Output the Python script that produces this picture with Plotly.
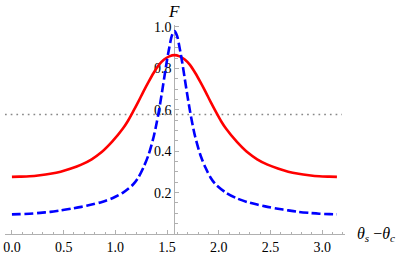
import plotly.graph_objects as go

# Values (left half then right half)
red_x = [0.000, 0.071, 0.171, 0.271, 0.371, 0.471, 0.571, 0.671, 0.771, 0.871, 0.971,
         1.071, 1.121, 1.171, 1.221, 1.271, 1.321, 1.371, 1.421, 1.471, 1.521, 1.571,
         1.621, 1.671, 1.721, 1.771, 1.821, 1.871, 1.921, 1.971, 2.021, 2.071,
         2.171, 2.271, 2.371, 2.471, 2.571, 2.671, 2.771, 2.871, 2.971, 3.071, 3.142]
red_y = [0.276, 0.277, 0.279, 0.284, 0.291, 0.301, 0.316, 0.335, 0.361, 0.397, 0.447,
         0.508, 0.546, 0.591, 0.638, 0.688, 0.735, 0.779, 0.817, 0.843, 0.858, 0.864,
         0.858, 0.843, 0.817, 0.779, 0.735, 0.688, 0.638, 0.591, 0.546, 0.508,
         0.447, 0.397, 0.361, 0.335, 0.316, 0.301, 0.291, 0.284, 0.279, 0.277, 0.276]

blue_x = [0.000, 0.071, 0.171, 0.271, 0.371, 0.471, 0.571, 0.671, 0.771, 0.871, 0.971,
          1.071, 1.171, 1.221, 1.271, 1.321, 1.371, 1.396, 1.421, 1.446, 1.471, 1.496, 1.521, 1.546, 1.571,
          1.596, 1.621, 1.646, 1.671, 1.696, 1.721, 1.746, 1.771, 1.821, 1.871, 1.921, 1.971,
          2.071, 2.171, 2.271, 2.371, 2.471, 2.571, 2.671, 2.771, 2.871, 2.971, 3.071, 3.142]
blue_y = [0.095, 0.096, 0.098, 0.102, 0.107, 0.114, 0.122, 0.131, 0.142, 0.155, 0.173,
          0.199, 0.239, 0.272, 0.321, 0.383, 0.471, 0.529, 0.595, 0.670, 0.750, 0.830, 0.900, 0.958, 0.980,
          0.958, 0.900, 0.830, 0.750, 0.670, 0.595, 0.529, 0.471, 0.383, 0.321, 0.272, 0.239,
          0.199, 0.173, 0.155, 0.142, 0.131, 0.122, 0.114, 0.107, 0.102, 0.098, 0.096, 0.095]

ref_level = 0.577
x_range = [-0.067, 3.22]
y_range = [0.0, 1.0096]

fig = go.Figure()
fig.add_trace(go.Scatter(x=red_x, y=red_y, mode="lines",
                         line=dict(color="#ff0000", width=2.6, shape="spline", smoothing=0.8),
                         showlegend=False))
fig.add_trace(go.Scatter(x=blue_x, y=blue_y, mode="lines",
                         line=dict(color="#0000ff", width=2.6, dash="9px,3.5px", shape="spline", smoothing=0.8),
                         showlegend=False))

fig.add_shape(type="line", xref="x", yref="y", x0=x_range[0], x1=3.19, y0=ref_level, y1=ref_level,
              line=dict(color="#888888", width=1.5, dash="1.7px,4px"), layer="below")

axis_color = "#b0b0b0"
serif = "Liberation Serif"
tick_font = dict(family=serif, size=14, color="black")

fig.update_layout(
    width=399, height=258,
    margin=dict(l=3, r=54, t=25, b=21),
    paper_bgcolor="white", plot_bgcolor="white",
    xaxis=dict(range=x_range, showgrid=False, zeroline=False, showline=True, linecolor=axis_color, linewidth=1,
               ticks="inside", ticklen=4, tickcolor=axis_color, tickwidth=1,
               tickmode="linear", tick0=0, dtick=0.5, tickformat=".1f", tickfont=tick_font,
               minor=dict(ticks="inside", ticklen=2.5, tickcolor=axis_color, tickmode="linear", tick0=0, dtick=0.1),
               layer="below traces", anchor="y"),
    yaxis=dict(range=y_range, showgrid=False, zeroline=False, showline=True, linecolor=axis_color, linewidth=1,
               ticks="inside", ticklen=4, tickcolor=axis_color, tickwidth=1,
               tickmode="array", tickvals=[0.2, 0.4, 0.6, 0.8, 1.0], ticktext=["0.2", "0.4", "0.6", "0.8", "1.0"],
               tickfont=tick_font,
               minor=dict(ticks="inside", ticklen=2.5, tickcolor=axis_color, tickmode="linear", tick0=0, dtick=0.05),
               layer="below traces", anchor="free", position=0.498),
)

fig.add_annotation(text="<i>F</i>", xref="x", yref="paper", x=1.571, y=1.066, showarrow=False,
                   font=dict(family=serif, size=17, color="black"),
                   xanchor="center", yanchor="middle")
fig.add_annotation(text="<i>θ</i><sub><i>s</i></sub> \u2212<i>θ</i><sub><i>c</i></sub>",
                   xref="paper", yref="y", x=1.152, y=0.0, showarrow=False,
                   font=dict(family=serif, size=16, color="black"),
                   xanchor="right", yanchor="middle")

fig.write_html("out.html", config={"displayModeBar": False},
               post_script="document.body.style.margin='0';document.body.style.overflow='hidden';")
